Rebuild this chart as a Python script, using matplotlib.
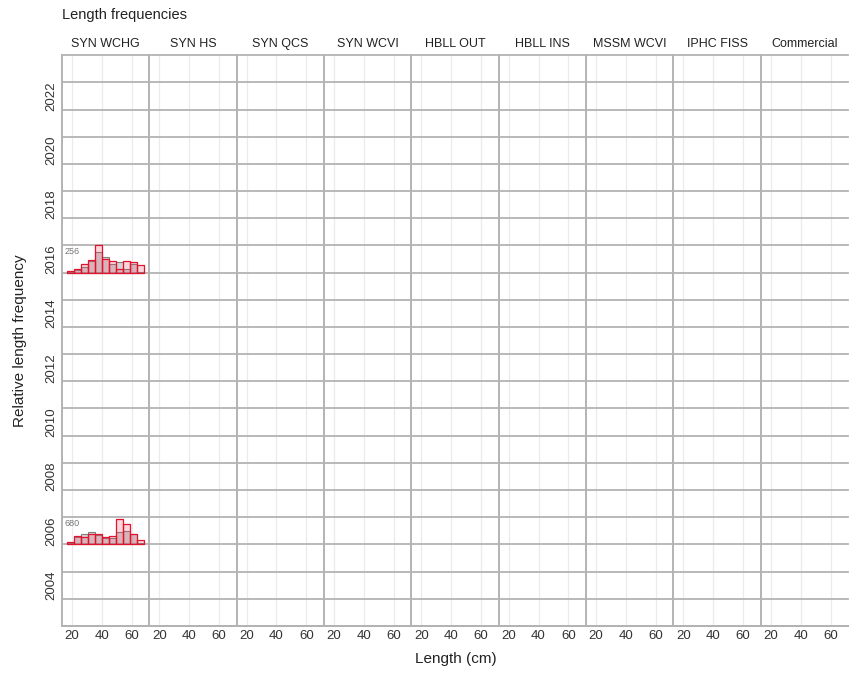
import numpy as np
import matplotlib.pyplot as plt

plt.rcParams['font.family'] = ['Liberation Sans', 'DejaVu Sans']

# survey panels
surveys = ["SYN WCHG", "SYN HS", "SYN QCS", "SYN WCVI", "HBLL OUT",
           "HBLL INS", "MSSM WCVI", "IPHC FISS", "Commercial"]

# length bins (cm)
bin_width = 4.7
bin_starts = 16.5 + bin_width * np.arange(11)

# relative frequencies, SYN WCHG only
years_with_data = [2016, 2006]
n_fish = [256, 680]
female = {
    2016: [0.06, 0.12, 0.30, 0.48, 1.00, 0.50, 0.43, 0.13, 0.41, 0.40, 0.29],
    2006: [0.10, 0.32, 0.28, 0.39, 0.37, 0.28, 0.32, 0.94, 0.75, 0.38, 0.15],
}
male = {
    2016: [0.03, 0.08, 0.20, 0.42, 0.77, 0.58, 0.33, 0.38, 0.12, 0.33, 0.02],
    2006: [0.06, 0.26, 0.39, 0.44, 0.34, 0.22, 0.22, 0.47, 0.50, 0.37, 0.06],
}

year_ticks = list(range(2004, 2023, 2))
x_ticks = [20, 40, 60]

fig, axes = plt.subplots(1, 9, sharey=True, figsize=(8.49, 6.73), dpi=100)
fig.subplots_adjust(left=0.073, right=0.999, top=0.918, bottom=0.07, wspace=0)

grid_col = "#b3b3b3"
for i, ax in enumerate(axes):
    ax.set_xlim(13.4, 71.8)
    ax.set_ylim(2002.5, 2023.5)
    for x in x_ticks:
        ax.axvline(x, color="#ebebeb", lw=0.9, zorder=0)
    for y in np.arange(2002.5, 2024, 1.0):
        ax.axhline(y, color=grid_col, lw=1.3, zorder=1, clip_on=False)
    for s in ["top", "right"]:
        ax.spines[s].set_visible(False)
    for s in ["left", "bottom"]:
        ax.spines[s].set_color(grid_col)
        ax.spines[s].set_linewidth(1.4)
    ax.set_xticks(x_ticks)
    ax.tick_params(length=0, labelsize=9.5, colors="#333333", pad=3)
    ax.set_title(surveys[i], fontsize=9, color="#222222", pad=6)
    if i > 0:
        ax.tick_params(axis="y", left=False, labelleft=False)

axes[0].set_yticks(year_ticks)
axes[0].set_yticklabels([str(y) for y in year_ticks], rotation=90, va="center")

ax = axes[0]
for yr, n in zip(years_with_data, n_fish):
    ax.bar(bin_starts, male[yr], width=bin_width, bottom=yr - 0.5, align="edge",
           facecolor=(0.45, 0.45, 0.45, 0.3), edgecolor="#808080", lw=0.8, zorder=3)
    ax.bar(bin_starts, female[yr], width=bin_width, bottom=yr - 0.5, align="edge",
           facecolor=(0.95, 0.2, 0.3, 0.2), edgecolor="#e3122e", lw=0.9, zorder=4)
    ax.text(15.3, yr + 0.28, str(n), fontsize=6.5, color="#777777", va="center", zorder=5)

fig.text(0.073, 0.978, "Length frequencies", fontsize=10.5, color="#222222", va="center")
fig.text(0.537, 0.021, "Length (cm)", fontsize=11, color="#222222", ha="center", va="center")
fig.text(0.024, 0.494, "Relative length frequency", fontsize=11, color="#222222",
         rotation=90, ha="center", va="center")

fig.savefig("out.png", dpi=100)
